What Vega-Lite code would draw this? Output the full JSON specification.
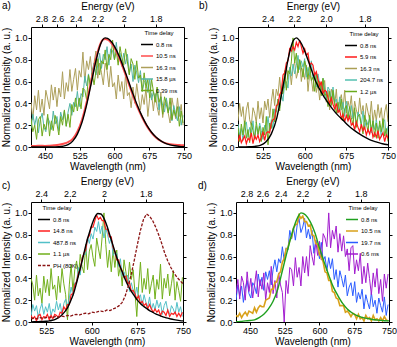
{
  "$schema": "https://vega.github.io/schema/vega-lite/v6.json",
  "background": "white",
  "padding": {"left": 0, "top": 0, "right": 0, "bottom": 0},
  "datasets": {
    "aFit": [
      {"w":420,"b":0,"r":0.01},{"w":430,"b":0,"r":0.01},{"w":440,"b":0,"r":0.012},{"w":450,"b":0,"r":0.01},{"w":460,"b":0,"r":0.012},{"w":470,"b":0.001,"r":0.015},{"w":480,"b":0.003,"r":0.02},{"w":490,"b":0.008,"r":0.03},{"w":500,"b":0.022,"r":0.045},{"w":510,"b":0.054,"r":0.075},{"w":520,"b":0.118,"r":0.14},{"w":530,"b":0.226,"r":0.25},{"w":540,"b":0.386,"r":0.41},{"w":550,"b":0.586,"r":0.61},{"w":560,"b":0.788,"r":0.81},{"w":570,"b":0.942,"r":0.95},{"w":575,"b":0.985,"r":0.985},{"w":580,"b":1,"r":0.99},{"w":585,"b":0.995,"r":0.985},{"w":590,"b":0.98,"r":0.97},{"w":600,"b":0.923,"r":0.91},{"w":610,"b":0.835,"r":0.82},{"w":620,"b":0.726,"r":0.71},{"w":630,"b":0.607,"r":0.59},{"w":640,"b":0.487,"r":0.47},{"w":650,"b":0.375,"r":0.36},{"w":660,"b":0.278,"r":0.27},{"w":670,"b":0.198,"r":0.19},{"w":680,"b":0.135,"r":0.13},{"w":690,"b":0.089,"r":0.085},{"w":700,"b":0.056,"r":0.055},{"w":710,"b":0.034,"r":0.035},{"w":720,"b":0.02,"r":0.025},{"w":730,"b":0.011,"r":0.02},{"w":740,"b":0.006,"r":0.018},{"w":750,"b":0.003,"r":0.015}
    ],
    "aRaw": [
      {"w":420,"o":0.41,"t":0.17,"g":0.26},{"w":424,"o":0.25,"t":0.30,"g":0.14},{"w":428,"o":0.47,"t":0.20,"g":0.20},{"w":432,"o":0.34,"t":0.28,"g":0.07},{"w":436,"o":0.52,"t":0.13,"g":0.25},{"w":440,"o":0.32,"t":0.25,"g":0.28},{"w":444,"o":0.44,"t":0.31,"g":0.10},{"w":448,"o":0.29,"t":0.18,"g":0.21},{"w":452,"o":0.52,"t":0.14,"g":0.16},{"w":456,"o":0.44,"t":0.27,"g":0.30},
      {"w":460,"o":0.35,"t":0.23,"g":0.10},{"w":464,"o":0.57,"t":0.16,"g":0.24},{"w":468,"o":0.43,"t":0.33,"g":0.15},{"w":472,"o":0.55,"t":0.21,"g":0.29},{"w":476,"o":0.37,"t":0.28,"g":0.21},{"w":480,"o":0.54,"t":0.15,"g":0.11},{"w":484,"o":0.46,"t":0.32,"g":0.28},{"w":488,"o":0.69,"t":0.25,"g":0.20},{"w":492,"o":0.44,"t":0.33,"g":0.34},{"w":496,"o":0.59,"t":0.19,"g":0.19},
      {"w":500,"o":0.51,"t":0.32,"g":0.30},{"w":504,"o":0.71,"t":0.40,"g":0.18},{"w":508,"o":0.51,"t":0.29,"g":0.39},{"w":512,"o":0.62,"t":0.41,"g":0.32},{"w":516,"o":0.72,"t":0.37,"g":0.45},{"w":520,"o":0.52,"t":0.51,"g":0.33},{"w":524,"o":0.70,"t":0.37,"g":0.45},{"w":528,"o":0.64,"t":0.49,"g":0.35},{"w":532,"o":0.87,"t":0.46,"g":0.54},{"w":536,"o":0.59,"t":0.65,"g":0.52},
      {"w":540,"o":0.79,"t":0.56,"g":0.43},{"w":544,"o":0.71,"t":0.67,"g":0.66},{"w":548,"o":0.83,"t":0.55,"g":0.56},{"w":552,"o":0.65,"t":0.70,"g":0.68},{"w":556,"o":0.77,"t":0.77,"g":0.57},{"w":560,"o":0.88,"t":0.66,"g":0.69},{"w":564,"o":0.63,"t":0.75,"g":0.81},{"w":568,"o":0.77,"t":0.86,"g":0.66},{"w":572,"o":0.68,"t":0.72,"g":0.79},{"w":576,"o":0.57,"t":0.85,"g":0.76},
      {"w":580,"o":0.77,"t":0.80,"g":0.89},{"w":584,"o":0.70,"t":0.92,"g":0.71},{"w":588,"o":0.55,"t":0.75,"g":0.85},{"w":592,"o":0.74,"t":0.90,"g":0.80},{"w":596,"o":0.55,"t":0.88,"g":0.98},{"w":600,"o":0.59,"t":0.80,"g":0.80},{"w":604,"o":0.44,"t":0.96,"g":0.88},{"w":608,"o":0.66,"t":0.80,"g":0.75},{"w":612,"o":0.51,"t":0.86,"g":0.92},{"w":616,"o":0.60,"t":0.74,"g":0.82},
      {"w":620,"o":0.44,"t":0.86,"g":0.75},{"w":624,"o":0.67,"t":0.76,"g":0.90},{"w":628,"o":0.47,"t":0.85,"g":0.78},{"w":632,"o":0.50,"t":0.67,"g":0.66},{"w":636,"o":0.36,"t":0.76,"g":0.81},{"w":640,"o":0.55,"t":0.60,"g":0.76},{"w":644,"o":0.40,"t":0.75,"g":0.62},{"w":648,"o":0.58,"t":0.68,"g":0.79},{"w":652,"o":0.45,"t":0.59,"g":0.63},{"w":656,"o":0.34,"t":0.70,"g":0.66},
      {"w":660,"o":0.48,"t":0.51,"g":0.51},{"w":664,"o":0.39,"t":0.59,"g":0.68},{"w":668,"o":0.54,"t":0.62,"g":0.54},{"w":672,"o":0.28,"t":0.50,"g":0.62},{"w":676,"o":0.45,"t":0.62,"g":0.45},{"w":680,"o":0.49,"t":0.43,"g":0.62},{"w":684,"o":0.33,"t":0.51,"g":0.51},{"w":688,"o":0.49,"t":0.44,"g":0.41},{"w":692,"o":0.37,"t":0.53,"g":0.55},{"w":696,"o":0.29,"t":0.34,"g":0.41},
      {"w":700,"o":0.50,"t":0.46,"g":0.46},{"w":704,"o":0.27,"t":0.38,"g":0.30},{"w":708,"o":0.40,"t":0.32,"g":0.46},{"w":712,"o":0.44,"t":0.45,"g":0.39},{"w":716,"o":0.31,"t":0.32,"g":0.31},{"w":720,"o":0.22,"t":0.37,"g":0.45},{"w":724,"o":0.45,"t":0.24,"g":0.25},{"w":728,"o":0.35,"t":0.38,"g":0.34},{"w":732,"o":0.26,"t":0.30,"g":0.28},{"w":736,"o":0.45,"t":0.24,"g":0.37},
      {"w":740,"o":0.28,"t":0.37,"g":0.19},{"w":744,"o":0.39,"t":0.20,"g":0.33},{"w":748,"o":0.20,"t":0.29,"g":0.22}
    ],
    "bFit": [
      {"w":480,"b":0},{"w":490,"b":0.001},{"w":500,"b":0.002},{"w":510,"b":0.006},{"w":520,"b":0.015},{"w":530,"b":0.045},{"w":540,"b":0.12},{"w":550,"b":0.27},{"w":555,"b":0.39},{"w":560,"b":0.53},{"w":565,"b":0.66},{"w":570,"b":0.8},{"w":575,"b":0.91},{"w":580,"b":0.98},{"w":585,"b":1},{"w":590,"b":0.98},{"w":595,"b":0.94},{"w":600,"b":0.88},{"w":610,"b":0.74},{"w":620,"b":0.6},{"w":630,"b":0.5},{"w":640,"b":0.42},{"w":650,"b":0.35},{"w":660,"b":0.29},{"w":670,"b":0.24},{"w":680,"b":0.19},{"w":690,"b":0.15},{"w":700,"b":0.115},{"w":710,"b":0.085},{"w":720,"b":0.06},{"w":730,"b":0.045},{"w":740,"b":0.03},{"w":750,"b":0.02}
    ],
    "bRaw": [
      {"w":480,"r":0.05,"o":0.24,"t":0.21,"g":0.18},{"w":483,"r":0.11,"o":0.40,"t":0.11,"g":0.05},{"w":486,"r":0.04,"o":0.28,"t":0.17,"g":0.21},{"w":489,"r":0.07,"o":0.37,"t":0.06,"g":0.11},{"w":492,"r":0.10,"o":0.19,"t":0.20,"g":0.24},{"w":495,"r":0.03,"o":0.34,"t":0.23,"g":0.08},{"w":498,"r":0.08,"o":0.41,"t":0.09,"g":0.16},{"w":501,"r":0.06,"o":0.25,"t":0.18,"g":0.04},{"w":504,"r":0.13,"o":0.20,"t":0.13,"g":0.22},{"w":507,"r":0.03,"o":0.36,"t":0.24,"g":0.15},
      {"w":510,"r":0.10,"o":0.31,"t":0.08,"g":0.07},{"w":513,"r":0.07,"o":0.22,"t":0.19,"g":0.23},{"w":516,"r":0.11,"o":0.42,"t":0.11,"g":0.12},{"w":519,"r":0.05,"o":0.26,"t":0.22,"g":0.19},{"w":522,"r":0.09,"o":0.36,"t":0.15,"g":0.05},{"w":525,"r":0.14,"o":0.22,"t":0.07,"g":0.18},{"w":528,"r":0.06,"o":0.42,"t":0.20,"g":0.11},{"w":531,"r":0.13,"o":0.34,"t":0.14,"g":0.28},{"w":534,"r":0.14,"o":0.44,"t":0.28,"g":0.02},{"w":537,"r":0.13,"o":0.27,"t":0.15,"g":0.22},
      {"w":540,"r":0.22,"o":0.42,"t":0.25,"g":0.17},{"w":543,"r":0.25,"o":0.53,"t":0.17,"g":0.35},{"w":546,"r":0.26,"o":0.38,"t":0.35,"g":0.23},{"w":549,"r":0.38,"o":0.53,"t":0.32,"g":0.34},{"w":552,"r":0.39,"o":0.47,"t":0.44,"g":0.44},{"w":555,"r":0.48,"o":0.64,"t":0.36,"g":0.33},{"w":558,"r":0.51,"o":0.46,"t":0.49,"g":0.50},{"w":561,"r":0.66,"o":0.60,"t":0.42,"g":0.49},{"w":564,"r":0.68,"o":0.54,"t":0.59,"g":0.70},{"w":567,"r":0.77,"o":0.74,"t":0.60,"g":0.52},
      {"w":570,"r":0.79,"o":0.62,"t":0.54,"g":0.70},{"w":573,"r":0.90,"o":0.73,"t":0.73,"g":0.67},{"w":576,"r":0.88,"o":0.57,"t":0.65,"g":0.78},{"w":579,"r":0.92,"o":0.73,"t":0.76,"g":1.0},{"w":582,"r":0.89,"o":0.78,"t":0.67,"g":0.77},{"w":585,"r":0.96,"o":0.63,"t":0.75,"g":0.86},{"w":588,"r":0.92,"o":0.69,"t":0.84,"g":0.68},{"w":591,"r":0.98,"o":0.80,"t":0.71,"g":0.80},{"w":594,"r":0.92,"o":0.60,"t":0.79,"g":0.73},{"w":597,"r":0.86,"o":0.72,"t":0.73,"g":0.64},
      {"w":600,"r":0.90,"o":0.62,"t":0.81,"g":0.79},{"w":603,"r":0.84,"o":0.75,"t":0.64,"g":0.73},{"w":606,"r":0.86,"o":0.51,"t":0.73,"g":0.62},{"w":609,"r":0.75,"o":0.67,"t":0.66,"g":0.76},{"w":612,"r":0.77,"o":0.62,"t":0.79,"g":0.61},{"w":615,"r":0.75,"o":0.51,"t":0.62,"g":0.64},{"w":618,"r":0.66,"o":0.69,"t":0.67,"g":0.51},{"w":621,"r":0.69,"o":0.50,"t":0.55,"g":0.67},{"w":624,"r":0.62,"o":0.58,"t":0.67,"g":0.54},{"w":627,"r":0.56,"o":0.43,"t":0.58,"g":0.60},
      {"w":630,"r":0.60,"o":0.59,"t":0.52,"g":0.47},{"w":633,"r":0.49,"o":0.49,"t":0.63,"g":0.63},{"w":636,"r":0.52,"o":0.61,"t":0.53,"g":0.47},{"w":639,"r":0.51,"o":0.41,"t":0.44,"g":0.49},{"w":642,"r":0.45,"o":0.52,"t":0.55,"g":0.37},{"w":645,"r":0.40,"o":0.34,"t":0.52,"g":0.51},{"w":648,"r":0.45,"o":0.53,"t":0.41,"g":0.38},{"w":651,"r":0.39,"o":0.47,"t":0.55,"g":0.52},{"w":654,"r":0.35,"o":0.38,"t":0.41,"g":0.40},{"w":657,"r":0.40,"o":0.53,"t":0.44,"g":0.31},
      {"w":660,"r":0.32,"o":0.31,"t":0.32,"g":0.41},{"w":663,"r":0.34,"o":0.42,"t":0.46,"g":0.33},{"w":666,"r":0.26,"o":0.48,"t":0.34,"g":0.44},{"w":669,"r":0.30,"o":0.35,"t":0.41,"g":0.24},{"w":672,"r":0.23,"o":0.52,"t":0.28,"g":0.35},{"w":675,"r":0.29,"o":0.31,"t":0.42,"g":0.38},{"w":678,"r":0.24,"o":0.42,"t":0.34,"g":0.25},{"w":681,"r":0.28,"o":0.35,"t":0.26,"g":0.37},{"w":684,"r":0.20,"o":0.47,"t":0.38,"g":0.27},{"w":687,"r":0.22,"o":0.26,"t":0.26,"g":0.20},
      {"w":690,"r":0.16,"o":0.42,"t":0.32,"g":0.36},{"w":693,"r":0.23,"o":0.34,"t":0.19,"g":0.18},{"w":696,"r":0.18,"o":0.28,"t":0.32,"g":0.28},{"w":699,"r":0.14,"o":0.45,"t":0.27,"g":0.30},{"w":702,"r":0.21,"o":0.30,"t":0.20,"g":0.20},{"w":705,"r":0.15,"o":0.38,"t":0.33,"g":0.12},{"w":708,"r":0.18,"o":0.23,"t":0.17,"g":0.29},{"w":711,"r":0.11,"o":0.40,"t":0.25,"g":0.22},{"w":714,"r":0.16,"o":0.32,"t":0.20,"g":0.14},{"w":717,"r":0.12,"o":0.25,"t":0.27,"g":0.29},
      {"w":720,"r":0.18,"o":0.42,"t":0.13,"g":0.15},{"w":723,"r":0.09,"o":0.22,"t":0.24,"g":0.24},{"w":726,"r":0.13,"o":0.34,"t":0.16,"g":0.09},{"w":729,"r":0.09,"o":0.24,"t":0.25,"g":0.22},{"w":732,"r":0.15,"o":0.39,"t":0.15,"g":0.08},{"w":735,"r":0.07,"o":0.27,"t":0.20,"g":0.24},{"w":738,"r":0.10,"o":0.36,"t":0.09,"g":0.14},{"w":741,"r":0.13,"o":0.18,"t":0.23,"g":0.26},{"w":744,"r":0.05,"o":0.32,"t":0.25,"g":0.10},{"w":747,"r":0.11,"o":0.39,"t":0.10,"g":0.17},
      {"w":750,"r":0.08,"o":0.23,"t":0.19,"g":0.05}
    ],
    "cFit": [
      {"w":500,"b":0,"p":0.03},{"w":505,"b":0.002,"p":0.035},{"w":510,"b":0.003,"p":0.03},{"w":515,"b":0.004,"p":0.04},{"w":520,"b":0.005,"p":0.035},{"w":525,"b":0.007,"p":0.04},{"w":530,"b":0.01,"p":0.045},{"w":535,"b":0.016,"p":0.04},{"w":540,"b":0.025,"p":0.05},{"w":545,"b":0.04,"p":0.045},
      {"w":550,"b":0.06,"p":0.055},{"w":555,"b":0.09,"p":0.05},{"w":560,"b":0.13,"p":0.06},{"w":565,"b":0.19,"p":0.055},{"w":570,"b":0.26,"p":0.065},{"w":575,"b":0.36,"p":0.07},{"w":580,"b":0.47,"p":0.065},{"w":585,"b":0.58,"p":0.075},{"w":590,"b":0.70,"p":0.08},{"w":595,"b":0.80,"p":0.075},
      {"w":600,"b":0.89,"p":0.09},{"w":605,"b":0.96,"p":0.085},{"w":610,"b":0.995,"p":0.095},{"w":615,"b":0.99,"p":0.1},{"w":620,"b":0.95,"p":0.095},{"w":625,"b":0.88,"p":0.11},{"w":630,"b":0.79,"p":0.105},{"w":635,"b":0.70,"p":0.12},{"w":640,"b":0.61,"p":0.13},{"w":645,"b":0.53,"p":0.15},
      {"w":650,"b":0.46,"p":0.18},{"w":655,"b":0.39,"p":0.24},{"w":660,"b":0.33,"p":0.33},{"w":665,"b":0.28,"p":0.44},{"w":670,"b":0.24,"p":0.57},{"w":675,"b":0.20,"p":0.71},{"w":680,"b":0.17,"p":0.84},{"w":685,"b":0.145,"p":0.94},{"w":690,"b":0.125,"p":0.99},{"w":695,"b":0.105,"p":0.97},
      {"w":700,"b":0.09,"p":0.93},{"w":705,"b":0.075,"p":0.87},{"w":710,"b":0.063,"p":0.8},{"w":715,"b":0.052,"p":0.72},{"w":720,"b":0.043,"p":0.63},{"w":725,"b":0.035,"p":0.56},{"w":730,"b":0.028,"p":0.5},{"w":735,"b":0.022,"p":0.45},{"w":740,"b":0.017,"p":0.41},{"w":745,"b":0.013,"p":0.38},
      {"w":750,"b":0.01,"p":0.35}
    ],
    "cRaw": [
      {"w":500,"r":0.06,"t":0.05,"g":0.40},{"w":503,"r":0.03,"t":0.16,"g":0.34},{"w":506,"r":0.05,"t":0.10,"g":0.20},{"w":509,"r":0.01,"t":0.15,"g":0.43},{"w":512,"r":0.06,"t":0.04,"g":0.24},{"w":515,"r":0.07,"t":0.12,"g":0.31},{"w":518,"r":0.02,"t":0.17,"g":0.17},{"w":521,"r":0.05,"t":0.07,"g":0.42},{"w":524,"r":0.04,"t":0.14,"g":0.27},{"w":527,"r":0.07,"t":0.09,"g":0.39},
      {"w":530,"r":0.02,"t":0.17,"g":0.24},{"w":533,"r":0.06,"t":0.06,"g":0.49},{"w":536,"r":0.03,"t":0.12,"g":0.30},{"w":539,"r":0.07,"t":0.09,"g":0.34},{"w":542,"r":0.06,"t":0.19,"g":0.20},{"w":545,"r":0.04,"t":0.11,"g":0.42},{"w":548,"r":0.09,"t":0.17,"g":0.27},{"w":551,"r":0.08,"t":0.07,"g":0.49},{"w":554,"r":0.14,"t":0.17,"g":0.35},{"w":557,"r":0.11,"t":0.21,"g":0.25},
      {"w":560,"r":0.16,"t":0.14,"g":0.02},{"w":563,"r":0.16,"t":0.22,"g":0.34},{"w":566,"r":0.25,"t":0.32,"g":0.53},{"w":569,"r":0.26,"t":0.24,"g":0.28},{"w":572,"r":0.34,"t":0.36,"g":0.48},{"w":575,"r":0.37,"t":0.37,"g":0.56},{"w":578,"r":0.45,"t":0.50,"g":0.41},{"w":581,"r":0.48,"t":0.43,"g":0.62},{"w":584,"r":0.58,"t":0.59,"g":0.51},{"w":587,"r":0.63,"t":0.62,"g":0.45},
      {"w":590,"r":0.66,"t":0.62,"g":0.71},{"w":593,"r":0.77,"t":0.78,"g":0.48},{"w":596,"r":0.79,"t":0.72,"g":0.65},{"w":599,"r":0.87,"t":0.81,"g":0.71},{"w":602,"r":0.87,"t":0.76,"g":0.59},{"w":605,"r":0.93,"t":0.87,"g":0.51},{"w":608,"r":0.98,"t":0.83,"g":0.77},{"w":611,"r":0.94,"t":0.92,"g":0.67},{"w":614,"r":0.96,"t":0.81,"g":0.58},{"w":617,"r":0.93,"t":0.88,"g":0.78},
      {"w":620,"r":0.93,"t":0.77,"g":1.0},{"w":623,"r":0.85,"t":0.86,"g":0.71},{"w":626,"r":0.85,"t":0.80,"g":0.50},{"w":629,"r":0.78,"t":0.72,"g":0.66},{"w":632,"r":0.78,"t":0.77,"g":0.46},{"w":635,"r":0.68,"t":0.61,"g":0.66},{"w":638,"r":0.65,"t":0.63,"g":0.50},{"w":641,"r":0.57,"t":0.63,"g":0.66},{"w":644,"r":0.57,"t":0.51,"g":0.42},{"w":647,"r":0.50,"t":0.58,"g":0.51},
      {"w":650,"r":0.47,"t":0.42,"g":0.33},{"w":653,"r":0.41,"t":0.46,"g":0.57},{"w":656,"r":0.42,"t":0.39,"g":0.46},{"w":659,"r":0.35,"t":0.43,"g":0.34},{"w":662,"r":0.36,"t":0.28,"g":0.55},{"w":665,"r":0.28,"t":0.36,"g":0.39},{"w":668,"r":0.29,"t":0.29,"g":0.48},{"w":671,"r":0.26,"t":0.23,"g":0.27},{"w":674,"r":0.21,"t":0.32,"g":0.05},{"w":677,"r":0.24,"t":0.22,"g":0.33},
      {"w":680,"r":0.17,"t":0.25,"g":0.55},{"w":683,"r":0.19,"t":0.15,"g":0.27},{"w":686,"r":0.15,"t":0.25,"g":0.40},{"w":689,"r":0.17,"t":0.18,"g":0.30},{"w":692,"r":0.12,"t":0.14,"g":0.49},{"w":695,"r":0.16,"t":0.23,"g":0.26},{"w":698,"r":0.12,"t":0.11,"g":0.35},{"w":701,"r":0.09,"t":0.17,"g":0.43},{"w":704,"r":0.12,"t":0.11,"g":0.21},{"w":707,"r":0.09,"t":0.20,"g":0.39},
      {"w":710,"r":0.11,"t":0.13,"g":0.30},{"w":713,"r":0.06,"t":0.18,"g":0.53},{"w":716,"r":0.10,"t":0.07,"g":0.21},{"w":719,"r":0.09,"t":0.15,"g":0.40},{"w":722,"r":0.06,"t":0.19,"g":0.31},{"w":725,"r":0.11,"t":0.10,"g":0.44},{"w":728,"r":0.05,"t":0.07,"g":0.24},{"w":731,"r":0.08,"t":0.15,"g":0.35},{"w":734,"r":0.07,"t":0.12,"g":0.47},{"w":737,"r":0.09,"t":0.07,"g":0.20},
      {"w":740,"r":0.05,"t":0.18,"g":0.37},{"w":743,"r":0.08,"t":0.09,"g":0.29},{"w":746,"r":0.05,"t":0.14,"g":0.19},{"w":749,"r":0.09,"t":0.05,"g":0.41}
    ],
    "dFit": [
      {"w":420,"k":0.002},{"w":430,"k":0.005},{"w":440,"k":0.01},{"w":450,"k":0.014},{"w":460,"k":0.02},{"w":470,"k":0.04},{"w":480,"k":0.07},{"w":490,"k":0.12},{"w":500,"k":0.19},{"w":510,"k":0.3},{"w":520,"k":0.47},{"w":530,"k":0.64},{"w":540,"k":0.8},{"w":550,"k":0.93},{"w":555,"k":0.975},{"w":560,"k":1},{"w":565,"k":0.995},{"w":570,"k":0.98},{"w":580,"k":0.92},{"w":590,"k":0.82},{"w":600,"k":0.68},{"w":610,"k":0.55},{"w":620,"k":0.43},{"w":630,"k":0.32},{"w":640,"k":0.24},{"w":650,"k":0.17},{"w":660,"k":0.12},{"w":670,"k":0.085},{"w":680,"k":0.06},{"w":690,"k":0.045},{"w":700,"k":0.035},{"w":710,"k":0.027},{"w":720,"k":0.02},{"w":730,"k":0.016},{"w":740,"k":0.012},{"w":750,"k":0.01}
    ],
    "dRaw": [
      {"w":420,"u":0.20,"p":0.26,"y":0.06},{"w":424,"u":0.34,"p":0.39,"y":0.05},{"w":428,"u":0.24,"p":0.21,"y":0.08},{"w":432,"u":0.33,"p":0.42,"y":0.04},{"w":436,"u":0.18,"p":0.36,"y":0.07},{"w":440,"u":0.31,"p":0.20,"y":0.09},{"w":444,"u":0.38,"p":0.46,"y":0.06},{"w":448,"u":0.26,"p":0.28,"y":0.10},{"w":452,"u":0.22,"p":0.40,"y":0.09},{"w":456,"u":0.36,"p":0.22,"y":0.08},
      {"w":460,"u":0.33,"p":0.34,"y":0.13},{"w":464,"u":0.26,"p":0.47,"y":0.09},{"w":468,"u":0.44,"p":0.23,"y":0.13},{"w":472,"u":0.33,"p":0.39,"y":0.15},{"w":476,"u":0.41,"p":0.30,"y":0.14},{"w":480,"u":0.29,"p":0.45,"y":0.14},{"w":484,"u":0.46,"p":0.20,"y":0.20},{"w":488,"u":0.39,"p":0.36,"y":0.21},{"w":492,"u":0.47,"p":0.27,"y":0.22},{"w":496,"u":0.34,"p":0.51,"y":0.30},
      {"w":500,"u":0.48,"p":0.26,"y":0.30},{"w":504,"u":0.57,"p":0.38,"y":0.36},{"w":508,"u":0.46,"p":0.22,"y":0.37},{"w":512,"u":0.58,"p":0.45,"y":0.44},{"w":516,"u":0.54,"p":0.34,"y":0.46},{"w":520,"u":0.69,"p":0.27,"y":0.55},{"w":524,"u":0.56,"p":0.0,"y":0.58},{"w":528,"u":0.68,"p":0.38,"y":0.67},{"w":532,"u":0.66,"p":0.26,"y":0.68},{"w":536,"u":0.84,"p":0.50,"y":0.75},
      {"w":540,"u":0.76,"p":0.48,"y":0.78},{"w":544,"u":0.87,"p":0.33,"y":0.86},{"w":548,"u":0.75,"p":0.59,"y":0.89},{"w":552,"u":0.89,"p":0.41,"y":0.90},{"w":556,"u":0.95,"p":0.50,"y":0.98},{"w":560,"u":0.82,"p":0.33,"y":0.95},{"w":564,"u":0.87,"p":0.60,"y":0.97},{"w":568,"u":0.95,"p":0.45,"y":0.92},{"w":572,"u":0.77,"p":0.60,"y":0.92},{"w":576,"u":0.85,"p":0.42,"y":0.88},
      {"w":580,"u":0.76,"p":0.70,"y":0.89},{"w":584,"u":0.84,"p":0.60,"y":0.80},{"w":588,"u":0.63,"p":0.52,"y":0.79},{"w":592,"u":0.75,"p":0.75,"y":0.72},{"w":596,"u":0.69,"p":0.61,"y":0.71},{"w":600,"u":0.58,"p":0.74,"y":0.62},{"w":604,"u":0.73,"p":0.57,"y":0.59},{"w":608,"u":0.56,"p":0.81,"y":0.55},{"w":612,"u":0.60,"p":0.77,"y":0.46},{"w":616,"u":0.47,"p":0.69,"y":0.45},
      {"w":620,"u":0.59,"p":1.0,"y":0.38},{"w":624,"u":0.49,"p":0.68,"y":0.38},{"w":628,"u":0.58,"p":0.84,"y":0.28},{"w":632,"u":0.39,"p":0.76,"y":0.27},{"w":636,"u":0.48,"p":0.88,"y":0.22},{"w":640,"u":0.32,"p":0.64,"y":0.21},{"w":644,"u":0.47,"p":0.81,"y":0.15},{"w":648,"u":0.40,"p":0.65,"y":0.15},{"w":652,"u":0.32,"p":0.79,"y":0.15},{"w":656,"u":0.43,"p":0.60,"y":0.09},
      {"w":660,"u":0.24,"p":0.67,"y":0.10},{"w":664,"u":0.32,"p":0.47,"y":0.08},{"w":668,"u":0.36,"p":0.68,"y":0.05},{"w":672,"u":0.24,"p":0.70,"y":0.08},{"w":676,"u":0.37,"p":0.44,"y":0.07},{"w":680,"u":0.18,"p":0.57,"y":0.03},{"w":684,"u":0.27,"p":0.47,"y":0.07},{"w":688,"u":0.21,"p":0.63,"y":0.03},{"w":692,"u":0.30,"p":0.35,"y":0.04},{"w":696,"u":0.12,"p":0.51,"y":0.01},
      {"w":700,"u":0.25,"p":0.36,"y":0.06},{"w":704,"u":0.18,"p":0.54,"y":0.03},{"w":708,"u":0.12,"p":0.40,"y":0.04},{"w":712,"u":0.27,"p":0.25,"y":0.01},{"w":716,"u":0.14,"p":0.45,"y":0.06},{"w":720,"u":0.20,"p":0.32,"y":0.02},{"w":724,"u":0.08,"p":0.49,"y":0.03},{"w":728,"u":0.22,"p":0.26,"y":0.01},{"w":732,"u":0.15,"p":0.39,"y":0.04},{"w":736,"u":0.09,"p":0.19,"y":0.01},
      {"w":740,"u":0.23,"p":0.44,"y":0.05},{"w":744,"u":0.06,"p":0.31,"y":0.02},{"w":748,"u":0.16,"p":0.44,"y":0.01}
    ]
  },
  "spacing": 3,
  "resolve": {"scale": {"color": "independent"}, "legend": {"color": "independent"}},
  "vconcat": [
    {
      "spacing": 5,
      "resolve": {"scale": {"color": "independent"}, "legend": {"color": "independent"}},
      "hconcat": [
        {
          "width": 153, "height": 120,
          "title": {"text": "a)", "anchor": "start", "frame": "group", "dx": -29, "offset": -10},
          "layer": [
            {
              "encoding": {
                "x": {"field": "w", "type": "quantitative", "scale": {"domain": [420, 750], "nice": false, "zero": false}, "axis": {"values": [450, 525, 600, 675, 750], "title": "Wavelength (nm)", "titlePadding": 1}},
                "y": {"field": "v", "type": "quantitative", "scale": {"domain": [0, 1.1], "nice": false}, "axis": {"values": [0, 0.2, 0.4, 0.6, 0.8, 1], "format": ".1f", "title": "Normalized Intensity (a. u.)", "titlePadding": 3}}
              },
              "layer": [
                {"data": {"name": "aRaw"}, "transform": [{"fold": ["o"], "as": ["s", "v"]}], "mark": {"type": "line", "strokeWidth": 1, "clip": true},
                 "encoding": {"color": {"datum": "16.3 ns", "scale": {"domain": ["0.8 ns", "10.5 ns", "16.3 ns", "15.8 µs", "0.39 ms"], "range": ["#000000", "#ff4d4d", "#ad9f5a", "#52b5a5", "#70a91c"]}, "legend": {"title": "Time delay", "orient": "none", "legendX": 109, "legendY": 3}}}},
                {"data": {"name": "aRaw"}, "transform": [{"fold": ["t"], "as": ["s", "v"]}], "mark": {"type": "line", "strokeWidth": 1, "clip": true}, "encoding": {"color": {"datum": "15.8 µs"}}},
                {"data": {"name": "aRaw"}, "transform": [{"fold": ["g"], "as": ["s", "v"]}], "mark": {"type": "line", "strokeWidth": 1, "clip": true}, "encoding": {"color": {"datum": "0.39 ms"}}},
                {"data": {"name": "aFit"}, "transform": [{"fold": ["r"], "as": ["s", "v"]}], "mark": {"type": "line", "strokeWidth": 2, "interpolate": "monotone", "clip": true}, "encoding": {"color": {"datum": "10.5 ns"}}},
                {"data": {"name": "aFit"}, "transform": [{"fold": ["b"], "as": ["s", "v"]}], "mark": {"type": "line", "strokeWidth": 1.4, "interpolate": "monotone", "clip": true}, "encoding": {"color": {"datum": "0.8 ns"}}}
              ]
            },
            {
              "data": {"name": "aFit"},
              "mark": {"type": "point", "opacity": 0, "clip": true},
              "encoding": {
                "x": {"field": "w", "type": "quantitative", "scale": {"domain": [420, 750], "nice": false, "zero": false}, "axis": {"orient": "top", "values": [442.857, 476.923, 516.667, 563.636, 620, 688.889], "labelExpr": "format(1240 / datum.value, '.1~f')", "title": "Energy (eV)", "titlePadding": 3}},
                "y": {"field": "b", "type": "quantitative", "scale": {"domain": [0, 1.1], "nice": false}, "axis": {"orient": "right", "values": [0, 0.2, 0.4, 0.6, 0.8, 1], "labels": false, "title": null}}
              }
            }
          ],
          "resolve": {"scale": {"x": "independent", "y": "independent"}}
        },
        {
          "width": 150, "height": 120,
          "title": {"text": "b)", "anchor": "start", "frame": "group", "dx": -39, "offset": -10},
          "layer": [
            {
              "encoding": {
                "x": {"field": "w", "type": "quantitative", "scale": {"domain": [480, 750], "nice": false, "zero": false}, "axis": {"values": [525, 600, 675, 750], "title": "Wavelength (nm)", "titlePadding": 1}},
                "y": {"field": "v", "type": "quantitative", "scale": {"domain": [0, 1.1], "nice": false}, "axis": {"values": [0, 0.2, 0.4, 0.6, 0.8, 1], "format": ".1f", "title": "Normalized Intensity (a. u.)", "titlePadding": 3}}
              },
              "layer": [
                {"data": {"name": "bRaw"}, "transform": [{"fold": ["o"], "as": ["s", "v"]}], "mark": {"type": "line", "strokeWidth": 1, "clip": true},
                 "encoding": {"color": {"datum": "16.3 ns", "scale": {"domain": ["0.8 ns", "5.9 ns", "16.3 ns", "204.7 ns", "1.2 µs"], "range": ["#000000", "#ff1a1a", "#ab9f55", "#55c0b0", "#6aab1c"]}, "legend": {"title": "Time delay", "orient": "none", "legendX": 106, "legendY": 4}}}},
                {"data": {"name": "bRaw"}, "transform": [{"fold": ["t"], "as": ["s", "v"]}], "mark": {"type": "line", "strokeWidth": 1, "clip": true}, "encoding": {"color": {"datum": "204.7 ns"}}},
                {"data": {"name": "bRaw"}, "transform": [{"fold": ["g"], "as": ["s", "v"]}], "mark": {"type": "line", "strokeWidth": 1, "clip": true}, "encoding": {"color": {"datum": "1.2 µs"}}},
                {"data": {"name": "bRaw"}, "transform": [{"fold": ["r"], "as": ["s", "v"]}], "mark": {"type": "line", "strokeWidth": 1.2, "clip": true}, "encoding": {"color": {"datum": "5.9 ns"}}},
                {"data": {"name": "bFit"}, "transform": [{"fold": ["b"], "as": ["s", "v"]}], "mark": {"type": "line", "strokeWidth": 1.4, "interpolate": "monotone", "clip": true}, "encoding": {"color": {"datum": "0.8 ns"}}}
              ]
            },
            {
              "data": {"name": "bFit"},
              "mark": {"type": "point", "opacity": 0, "clip": true},
              "encoding": {
                "x": {"field": "w", "type": "quantitative", "scale": {"domain": [464, 730], "nice": false, "zero": false}, "axis": {"orient": "top", "values": [516.667, 563.636, 620, 688.889], "labelExpr": "format(1240 / datum.value, '.1f')", "title": "Energy (eV)", "titlePadding": 3}},
                "y": {"field": "b", "type": "quantitative", "scale": {"domain": [0, 1.1], "nice": false}, "axis": {"orient": "right", "values": [0, 0.2, 0.4, 0.6, 0.8, 1], "labels": false, "title": null}}
              }
            }
          ],
          "resolve": {"scale": {"x": "independent", "y": "independent"}}
        }
      ]
    },
    {
      "spacing": 5,
      "resolve": {"scale": {"color": "independent"}, "legend": {"color": "independent"}},
      "hconcat": [
        {
          "width": 152, "height": 120,
          "title": {"text": "c)", "anchor": "start", "frame": "group", "dx": -29, "offset": -15},
          "layer": [
            {
              "encoding": {
                "x": {"field": "w", "type": "quantitative", "scale": {"domain": [500, 750], "nice": false, "zero": false}, "axis": {"values": [525, 600, 675, 750], "title": "Wavelength (nm)", "titlePadding": 1}},
                "y": {"field": "v", "type": "quantitative", "scale": {"domain": [0, 1.1], "nice": false}, "axis": {"values": [0, 0.2, 0.4, 0.6, 0.8, 1], "format": ".1f", "title": "Normalized Intensity (a. u.)", "titlePadding": 3}}
              },
              "layer": [
                {"data": {"name": "cRaw"}, "transform": [{"fold": ["g"], "as": ["s", "v"]}], "mark": {"type": "line", "strokeWidth": 1, "clip": true},
                 "encoding": {"color": {"datum": "1.1 µs", "scale": {"domain": ["0.8 ns", "14.8 ns", "487.8 ns", "1.1 µs", "PH (80K)"], "range": ["#000000", "#ff2020", "#52c0c8", "#72b01c", "#8b1414"]},
                   "legend": {"title": "Time delay", "orient": "none", "legendX": 6, "legendY": 3, "encode": {"symbols": {"update": {"strokeDash": {"signal": "datum.value === 'PH (80K)' ? [3, 1.5] : [1, 0]"}}}}}}}},
                {"data": {"name": "cRaw"}, "transform": [{"fold": ["t"], "as": ["s", "v"]}], "mark": {"type": "line", "strokeWidth": 1, "clip": true}, "encoding": {"color": {"datum": "487.8 ns"}}},
                {"data": {"name": "cRaw"}, "transform": [{"fold": ["r"], "as": ["s", "v"]}], "mark": {"type": "line", "strokeWidth": 1.2, "clip": true}, "encoding": {"color": {"datum": "14.8 ns"}}},
                {"data": {"name": "cFit"}, "transform": [{"fold": ["b"], "as": ["s", "v"]}], "mark": {"type": "line", "strokeWidth": 1.4, "interpolate": "monotone", "clip": true}, "encoding": {"color": {"datum": "0.8 ns"}}},
                {"data": {"name": "cFit"}, "transform": [{"fold": ["p"], "as": ["s", "v"]}], "mark": {"type": "line", "strokeWidth": 1.3, "strokeDash": [3, 1.5], "clip": true}, "encoding": {"color": {"datum": "PH (80K)"}}}
              ]
            },
            {
              "data": {"name": "cFit"},
              "mark": {"type": "point", "opacity": 0, "clip": true},
              "encoding": {
                "x": {"field": "w", "type": "quantitative", "scale": {"domain": [500, 750], "nice": false, "zero": false}, "axis": {"orient": "top", "values": [516.667, 563.636, 620, 688.889], "labelExpr": "format(1240 / datum.value, '.1~f')", "title": "Energy (eV)", "titlePadding": 3}},
                "y": {"field": "b", "type": "quantitative", "scale": {"domain": [0, 1.1], "nice": false}, "axis": {"orient": "right", "values": [0, 0.2, 0.4, 0.6, 0.8, 1], "labels": false, "title": null}}
              }
            }
          ],
          "resolve": {"scale": {"x": "independent", "y": "independent"}}
        },
        {
          "width": 153, "height": 120,
          "title": {"text": "d)", "anchor": "start", "frame": "group", "dx": -38, "offset": -15},
          "layer": [
            {
              "encoding": {
                "x": {"field": "w", "type": "quantitative", "scale": {"domain": [420, 750], "nice": false, "zero": false}, "axis": {"values": [450, 525, 600, 675, 750], "title": "Wavelength (nm)", "titlePadding": 1}},
                "y": {"field": "v", "type": "quantitative", "scale": {"domain": [0, 1.1], "nice": false}, "axis": {"values": [0, 0.2, 0.4, 0.6, 0.8, 1], "format": ".1f", "title": "Normalized Intensity (a. u.)", "titlePadding": 3}}
              },
              "layer": [
                {"data": {"name": "dRaw"}, "transform": [{"fold": ["u"], "as": ["s", "v"]}], "mark": {"type": "line", "strokeWidth": 1, "clip": true},
                 "encoding": {"color": {"datum": "19.7 ns", "scale": {"domain": ["0.8 ns", "10.5 ns", "19.7 ns", "0.6 ms"], "range": ["#1fa01f", "#d9a11a", "#2b5cff", "#a21ccf"]}, "legend": {"title": "Time delay", "orient": "none", "legendX": 109, "legendY": 3}}}},
                {"data": {"name": "dRaw"}, "transform": [{"fold": ["p"], "as": ["s", "v"]}], "mark": {"type": "line", "strokeWidth": 1, "clip": true}, "encoding": {"color": {"datum": "0.6 ms"}}},
                {"data": {"name": "dRaw"}, "transform": [{"fold": ["y"], "as": ["s", "v"]}], "mark": {"type": "line", "strokeWidth": 1.6, "clip": true}, "encoding": {"color": {"datum": "10.5 ns"}}},
                {"data": {"name": "dFit"}, "transform": [{"fold": ["k"], "as": ["s", "v"]}], "mark": {"type": "line", "strokeWidth": 1.4, "interpolate": "monotone", "clip": true}, "encoding": {"color": {"datum": "0.8 ns"}}}
              ]
            },
            {
              "data": {"name": "dFit"},
              "mark": {"type": "point", "opacity": 0, "clip": true},
              "encoding": {
                "x": {"field": "w", "type": "quantitative", "scale": {"domain": [420, 750], "nice": false, "zero": false}, "axis": {"orient": "top", "values": [442.857, 476.923, 516.667, 563.636, 620, 688.889], "labelExpr": "format(1240 / datum.value, '.1~f')", "title": "Energy (eV)", "titlePadding": 3}},
                "y": {"field": "k", "type": "quantitative", "scale": {"domain": [0, 1.1], "nice": false}, "axis": {"orient": "right", "values": [0, 0.2, 0.4, 0.6, 0.8, 1], "labels": false, "title": null}}
              }
            }
          ],
          "resolve": {"scale": {"x": "independent", "y": "independent"}}
        }
      ]
    }
  ],
  "config": {
    "font": "Liberation Sans",
    "view": {"stroke": "#000000", "strokeWidth": 1},
    "axis": {"grid": false, "domain": false, "ticks": true, "tickColor": "#000000", "tickSize": 3, "tickWidth": 1, "labelColor": "#000000", "labelFont": "Liberation Sans", "labelFontSize": 9, "labelPadding": 1, "labelFlush": false, "labelOverlap": false, "titleColor": "#000000", "titleFont": "Liberation Sans", "titleFontSize": 10, "titleFontWeight": "normal"},
    "legend": {"titleFont": "Liberation Sans", "labelFont": "Liberation Sans", "titleFontSize": 6, "labelFontSize": 6, "titleFontWeight": "normal", "titleColor": "#000000", "labelColor": "#000000", "symbolType": "stroke", "symbolSize": 144, "symbolStrokeWidth": 1.5, "rowPadding": 1.5, "titlePadding": 1.5, "labelOffset": 2, "padding": 0, "titleAnchor": "middle"},
    "title": {"font": "Liberation Sans", "fontSize": 10, "fontWeight": "normal", "color": "#000000"}
  }
}
